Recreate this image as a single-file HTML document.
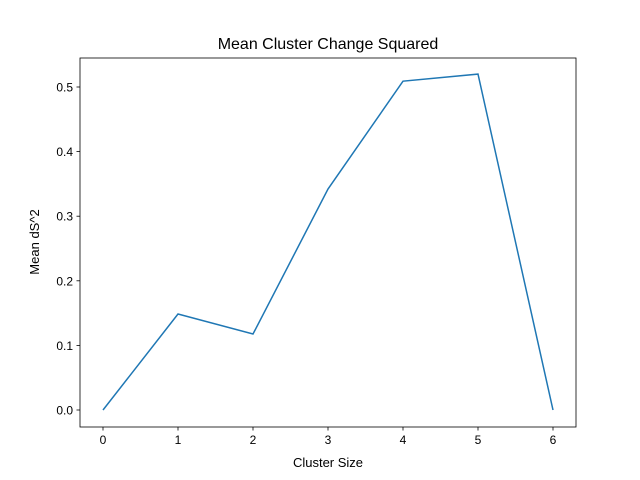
<!DOCTYPE html>
<html><head><meta charset="utf-8"><style>body{margin:0;background:#fff}svg{display:block;font-family:"Liberation Sans","DejaVu Sans",sans-serif}</style></head>
<body>
<svg id="chart" width="640" height="480">
<rect width="640" height="480" fill="#fff"/>
<text x="328" y="49" text-anchor="middle" font-size="16">Mean Cluster Change Squared</text>
<g id="axes"></g>
<text x="328" y="467" text-anchor="middle" font-size="13">Cluster Size</text>
<text transform="translate(39,242) rotate(-90)" text-anchor="middle" font-size="13">Mean dS^2</text>
</svg>
<script>
const categories=[0,1,2,3,4,5,6];
const values=[0,0.1486,0.1176,0.342,0.509,0.520,0];
const xTicks=[0,1,2,3,4,5,6];
const yTicks=[0.0,0.1,0.2,0.3,0.4,0.5];
const NS='http://www.w3.org/2000/svg';
const L=80,R=576,T=58,B=427;
const xs=v=>103+(v-0)*75;
const ys=v=>410-v*646;
const g=document.getElementById('axes');
function mk(t,a,p){const e=document.createElementNS(NS,t);for(const k in a)e.setAttribute(k,a[k]);(p||g).appendChild(e);return e;}
const frame=mk('rect',{x:L,y:T,width:R-L,height:B-T,fill:'none',stroke:'#000','stroke-width':0.8});


xTicks.forEach(v=>{const x=xs(v);
 mk('line',{x1:x,x2:x,y1:B,y2:B+3.5,stroke:'#000','stroke-width':0.8});
 const t=mk('text',{x:x,y:B+17,'text-anchor':'middle','font-size':12});t.textContent=v;
 
 });
yTicks.forEach(v=>{const y=ys(v);
 mk('line',{x1:L-3.5,x2:L,y1:y,y2:y,stroke:'#000','stroke-width':0.8});
 const t=mk('text',{x:L-7,y:y+4.5,'text-anchor':'end','font-size':12});t.textContent=v.toFixed(1);
 
 });
const pts=categories.map((c,i)=>xs(c)+','+ys(values[i])).join(' ');
const line=mk('polyline',{points:pts,fill:'none',stroke:'#1f77b4','stroke-width':1.5});


</script>
</body></html>
